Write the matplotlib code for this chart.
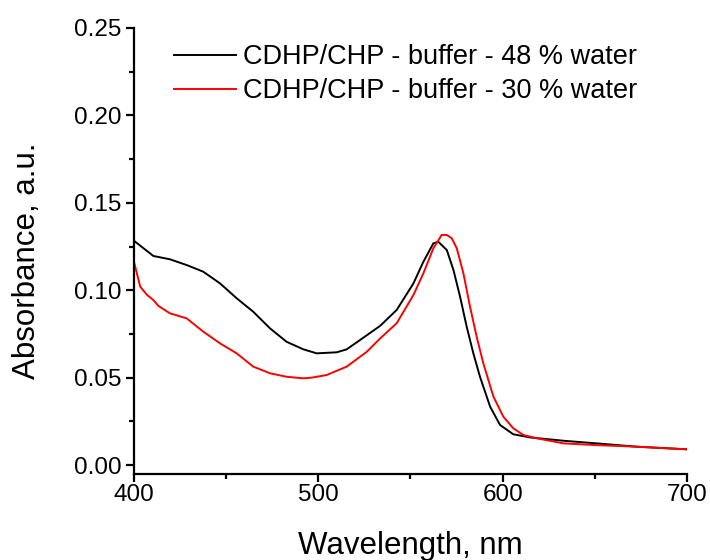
import matplotlib
matplotlib.use("Agg")
import matplotlib.pyplot as plt
from matplotlib.ticker import MultipleLocator, FormatStrFormatter

# wavelength (nm) and absorbance
wl_48 = [400, 410.5, 419.5, 428.6, 437.6, 446.7, 455.7, 464.7, 473.8, 482.8,
         491.9, 499.1, 510, 515.4, 522.6, 533.5, 542.5, 551.6, 557, 562.4,
         565.1, 569.7, 573.3, 576.9, 580.5, 584.1, 587.7, 593.2, 598.6, 605.8,
         614.9, 633, 651, 672.7, 700]
abs_48 = [0.1283, 0.1196, 0.1177, 0.1144, 0.1106, 0.1039, 0.0954, 0.0877, 0.0782, 0.0705,
          0.0662, 0.0639, 0.0645, 0.0662, 0.0715, 0.0796, 0.0887, 0.1039, 0.1163, 0.1268,
          0.1277, 0.1230, 0.1116, 0.0963, 0.0791, 0.0639, 0.0505, 0.0334, 0.0229, 0.0176,
          0.0158, 0.0139, 0.0124, 0.0105, 0.0090]

wl_30 = [400, 403.4, 407.1, 410.5, 413.3, 419.5, 428.6, 437.6, 446.7, 455.7,
         464.7, 473.8, 482.8, 491.9, 496.4, 504.5, 515.4, 526.3, 533.5, 542.5,
         551.6, 557, 562.4, 566.9, 569.7, 572.4, 575.1, 578.7, 582.3, 585.9,
         589.5, 595, 600.4, 605.8, 611.2, 618.5, 633, 651, 672.7, 700]
abs_30 = [0.1163, 0.1020, 0.0973, 0.0944, 0.0910, 0.0868, 0.0839, 0.0763, 0.0696, 0.0639,
          0.0563, 0.0525, 0.0505, 0.0496, 0.0500, 0.0515, 0.0563, 0.0648, 0.0724, 0.0811,
          0.0973, 0.1097, 0.1240, 0.1316, 0.1316, 0.1297, 0.1240, 0.1097, 0.0906, 0.0734,
          0.0582, 0.0391, 0.0276, 0.0210, 0.0172, 0.0153, 0.0124, 0.0114, 0.0105, 0.0090]

labels = ["CDHP/CHP - buffer - 48 % water", "CDHP/CHP - buffer - 30 % water"]

plt.rcParams['font.family'] = ['Liberation Sans', 'DejaVu Sans']

fig = plt.figure(figsize=(7.1, 5.6), dpi=100)
ax = fig.add_axes([0.1887, 0.153, 0.7789, 0.797])

ax.plot(wl_48, abs_48, color='black', lw=1.4, label=labels[0])
ax.plot(wl_30, abs_30, color='red', lw=1.4, label=labels[1])

ax.set_xlim(400, 700)
ax.set_ylim(-0.0053, 0.25)
ax.xaxis.set_major_locator(MultipleLocator(100))
ax.xaxis.set_minor_locator(MultipleLocator(50))
ax.yaxis.set_major_locator(MultipleLocator(0.05))
ax.yaxis.set_minor_locator(MultipleLocator(0.025))
ax.yaxis.set_major_formatter(FormatStrFormatter('%.2f'))

for s in ['top', 'right']:
    ax.spines[s].set_visible(False)
for s in ['left', 'bottom']:
    ax.spines[s].set_linewidth(1.6)

ax.tick_params(which='major', length=6, width=1.6, labelsize=17.5, pad=3)
ax.tick_params(which='minor', length=3.5, width=1.6)
ax.tick_params(axis='x', which='major', pad=1)

ax.set_xlabel("Wavelength, nm", fontsize=22.5, labelpad=18)
ax.set_ylabel("Absorbance, a.u.", fontsize=22.5)
ax.yaxis.set_label_coords(-0.167, 0.478)

ax.legend(loc='upper left', bbox_to_anchor=(174 / 710, 1 - 44 / 560),
          bbox_transform=fig.transFigure, frameon=False, fontsize=19.5,
          handlelength=2.3, handletextpad=0.26, labelspacing=0.3,
          borderpad=0, borderaxespad=0)

fig.savefig("out.png", dpi=100)
